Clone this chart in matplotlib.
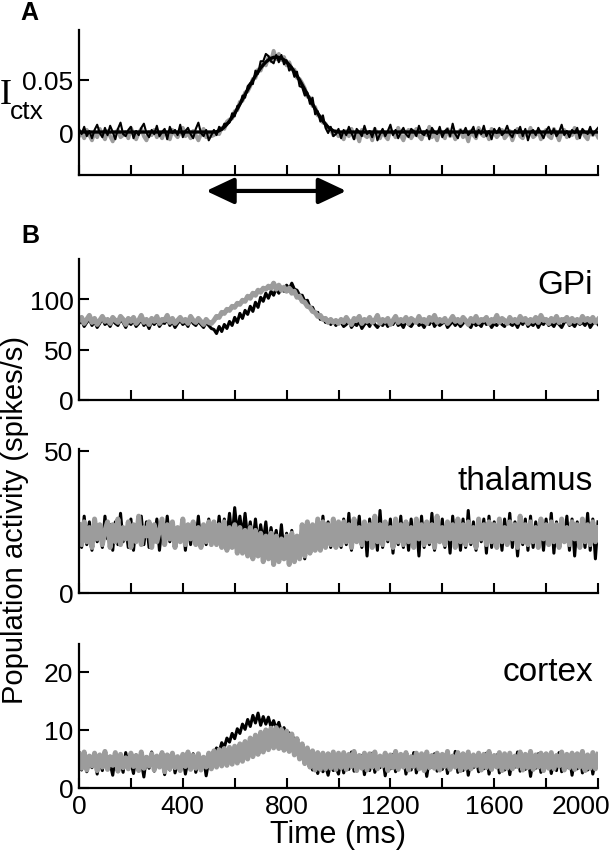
import matplotlib.pyplot as plt
import matplotlib.transforms as mtransforms
import numpy as np

plt.rcParams['font.family'] = ['Liberation Sans', 'DejaVu Sans']

# sample spacing of the traces (ms)
DT = 10

# ---- panel A: cortical input I_ctx (in units of 1e-3) ----
ictx_black = [
    3, -2, 5, -4, 1, -6, 2, 7, -1, -5, 4, -3, 6, 0, -7, 3, 9, -2, -4, 2,
    5, -6, 1, -3, 4, 8, -1, -5, 2, -2, 6, -4, 0, 3, -7, 5, -1, 2, -3, 7,
    -5, 1, 4, -2, -6, 3, 9, -1, -4, 2, -8, -3,
    2, -3, 5, 2, 8, 8, 9, 18, 15, 25, 26, 35, 33, 44, 47, 46, 59, 56, 68, 68,
    75, 73, 68, 66, 74, 67, 74, 65, 69, 59, 62, 53, 58, 44, 43, 35, 38, 27, 33, 17,
    20, 10, 16, 4, -1, 5, -4, -2, 3,
    -6, 2, -3, 5, -1, -7, 3, 0, -4, 6, -2, 1, -5, 4, -8, -2, 3, -4, 1, 7,
    -3, 2, -6, 0, 4, -2, -5, 3, 1, -4, 6, -1, -3, 2, -7, 4, 0, -2, 5, -5,
    1, 3, -4, 8, -2, -6, 2, -1, 4, -3, 0, 5, -5, 2, -2, 6, -4, 1, -7, 3,
    -1, 4, -3, 0, 6, -2, -5, 2, -1, 5, -4, 3, -8, 0, 2, -3, 4, -1, -6, 1,
    5, -2, 3, -4, 0, 7, -3, 1, -5, 2, -1, 4, -6, 3, 0, -2, 5, -3, 1, 4]
ictx_gray = [
    -4, -1, -6, 2, -3, -8, 0, -5, 3, -2, -7, 1, -4, -9, -1, 2, -5, -3, 0, -6,
    4, -2, -7, -1, 3, -4, -8, 0, -3, 2, -5, -1, -6, 1, -3, -7, 2, -2, -5, 0,
    4, -4, -1, -6, 1, -3, -8, -2, 3, -5, -1, -4,
    -3, -1, -2, 4, 3, 10, 12, 13, 20, 21, 29, 30, 38, 39, 44, 51, 52, 60, 59, 66,
    64, 72, 68, 78, 70, 75, 69, 72, 64, 67, 60, 60, 52, 51, 47, 42, 34, 33, 25, 24,
    16, 15, 9, 8, 2, 3, -3, 1, -4,
    -2, -7, 1, -4, 3, -6, -1, -9, 2, -3, -5, 0, -8, 3, -2, -6, 1, -4, -7, 2,
    -1, -5, 4, -3, -8, -1, 2, -6, -2, 3, -4, -7, 0, -3, 5, -5, -1, -8, 1, -2,
    -6, 3, -4, 0, -7, -2, 2, -5, -1, -9, 1, -3, -6, 4, -2, -4, 0, -7, 3, -1,
    -5, -2, 2, -6, -3, 1, -8, -1, 3, -4, -6, 0, -2, 4, -5, -3, 1, -7, -1, 2,
    -4, -6, 3, -2, -8, 0, 2, -5, -1, -3, 4, -6, -2, 1, -4, -7, 2, -3, 0, -5]
# mean input, only non-zero between 520 and 1000 ms
ictx_mean_t = [0] + list(range(520, 1001, 10)) + [2000]
ictx_mean = [0] + [
    0, 0.3, 1.2, 2.7, 4.8, 7.4, 10.5, 14.1, 18.0, 22.2, 26.7, 31.3, 36.0, 40.7,
    45.3, 49.8, 54.0, 57.9, 61.5, 64.6, 67.2, 69.3, 70.8, 71.7, 72.0, 71.7, 70.8,
    69.3, 67.2, 64.6, 61.5, 57.9, 54.0, 49.8, 45.3, 40.7, 36.0, 31.3, 26.7, 22.2,
    18.0, 14.1, 10.5, 7.4, 4.8, 2.7, 1.2, 0.3, 0] + [0]

# ---- panel B: population activity (spikes/s) ----
gpi_black = [
    76, 79, 73, 77, 80, 74, 78, 72, 76, 81, 75, 77, 73, 79, 76, 74, 80, 77, 72, 78,
    75, 79, 73, 76, 80, 74, 77, 71, 78, 75, 79, 73, 77, 76, 81, 74, 78, 72, 76, 79,
    75, 77, 73, 80, 76, 74, 78, 75, 72, 77, 74, 71,
    70, 66, 73, 68, 75, 71, 78, 74, 82, 77, 86, 81, 89, 85, 93, 88, 97, 92, 102, 98,
    106, 101, 108, 104, 111, 106, 112, 108, 114, 110, 116, 110, 109, 104, 104, 98, 99, 92, 92, 86,
    87, 80, 82, 77, 79, 75, 78, 74, 77,
    77, 73, 75, 79, 72, 76, 74, 78, 71, 75, 77, 73, 79, 75, 72, 76, 74, 78, 73, 77,
    75, 80, 74, 76, 72, 78, 75, 73, 77, 79, 74, 76, 72, 78, 75, 80, 73, 77, 74, 76,
    79, 72, 75, 78, 74, 77, 73, 76, 80, 75, 72, 78, 74, 76, 73, 79, 75, 77, 72, 76,
    74, 78, 75, 73, 79, 76, 74, 77, 72, 78, 75, 80, 73, 76, 74, 78, 72, 77, 75, 79,
    74, 76, 73, 78, 75, 72, 77, 79, 74, 76, 73, 78, 75, 77, 74, 79, 72, 76, 78, 75]
gpi_gray = [
    79, 82, 76, 80, 84, 77, 81, 75, 79, 83, 78, 80, 76, 82, 79, 77, 83, 80, 75, 81,
    78, 82, 76, 79, 84, 77, 80, 75, 81, 78, 83, 76, 80, 79, 84, 77, 81, 76, 79, 82,
    78, 80, 76, 83, 79, 77, 81, 78, 75, 80, 77, 76,
    79, 83, 82, 87, 86, 90, 89, 93, 92, 96, 95, 99, 98, 103, 101, 106, 104, 109, 107, 111,
    110, 113, 111, 116, 110, 114, 109, 112, 108, 111, 106, 108, 102, 103, 98, 97, 93, 92, 88, 87,
    83, 84, 80, 81, 77, 80, 77, 79, 76,
    80, 77, 82, 78, 75, 81, 79, 83, 76, 80, 78, 82, 77, 79, 84, 76, 80, 78, 81, 75,
    79, 83, 77, 80, 78, 82, 76, 81, 79, 77, 83, 78, 80, 76, 82, 79, 84, 77, 80, 78,
    81, 76, 79, 83, 78, 80, 77, 82, 79, 75, 81, 78, 83, 77, 80, 79, 82, 76, 80, 78,
    84, 77, 81, 79, 76, 82, 78, 80, 77, 83, 79, 81, 76, 80, 78, 82, 77, 84, 79, 80,
    76, 81, 78, 83, 77, 80, 79, 82, 76, 81, 78, 80, 77, 83, 79, 81, 78, 82, 77, 80]

thal_black = [
    23, 16, 27, 17, 25, 15, 26, 18, 22, 16, 27, 19, 24, 15, 25, 17, 28, 18, 23, 16,
    26, 15, 24, 19, 27, 17, 25, 16, 23, 18, 26, 15, 24, 17, 27, 18, 25, 16, 22, 19,
    26, 15, 24, 17, 25, 18, 27, 16, 23, 17, 26, 18,
    25, 18, 27, 19, 26, 20, 28, 19, 30, 21, 27, 20, 28, 19, 25, 18, 26, 17, 24, 18,
    25, 16, 23, 17, 22, 15, 24, 14, 21, 12, 22, 11, 20, 13, 23, 12, 25, 15, 24, 16,
    26, 15, 27, 17, 25, 16, 26, 17, 25,
    16, 26, 17, 28, 15, 24, 18, 27, 16, 25, 13, 26, 17, 24, 15, 29, 16, 25, 18, 26,
    14, 24, 17, 27, 16, 25, 15, 26, 18, 24, 13, 27, 16, 25, 17, 28, 15, 24, 18, 26,
    16, 25, 14, 27, 17, 24, 15, 26, 16, 29, 17, 25, 15, 24, 18, 26, 14, 27, 16, 25,
    17, 24, 15, 26, 18, 28, 16, 25, 13, 24, 17, 26, 15, 27, 16, 25, 18, 24, 15, 26,
    17, 28, 14, 25, 16, 24, 18, 27, 15, 26, 13, 25, 17, 24, 16, 28, 15, 26, 12, 25]
thal_gray = [
    24, 17, 25, 18, 23, 16, 26, 19, 24, 17, 22, 25, 16, 24, 18, 26, 17, 23, 19, 25,
    16, 24, 18, 27, 17, 23, 20, 25, 16, 24, 18, 22, 26, 17, 24, 19, 25, 16, 23, 18,
    26, 17, 24, 19, 25, 17, 23, 16, 24, 18, 25, 17,
    25, 17, 24, 16, 25, 15, 23, 16, 24, 14, 23, 14, 22, 13, 23, 12, 22, 13, 21, 11,
    20, 12, 21, 10, 20, 11, 19, 12, 20, 10, 21, 11, 20, 12, 24, 13, 25, 14, 24, 15,
    26, 15, 25, 16, 24, 17, 26, 16, 25,
    17, 25, 18, 24, 16, 26, 18, 23, 17, 25, 19, 24, 16, 27, 18, 24, 17, 25, 19, 23,
    16, 26, 18, 24, 17, 25, 18, 23, 16, 26, 19, 24, 17, 25, 18, 24, 16, 27, 18, 23,
    17, 25, 19, 24, 16, 26, 18, 24, 17, 25, 18, 23, 16, 26, 19, 24, 17, 25, 18, 24,
    16, 26, 18, 23, 17, 25, 19, 24, 16, 27, 18, 24, 17, 25, 18, 23, 16, 26, 19, 24,
    17, 25, 18, 24, 16, 26, 18, 23, 17, 25, 19, 24, 16, 26, 18, 24, 17, 25, 18, 23]

ctx_black = [
    5.2, 3.1, 6.0, 2.8, 4.5, 3.5, 5.8, 2.4, 4.9, 3.0, 6.3, 3.6, 4.2, 2.2, 5.5, 3.3, 4.8, 2.7, 6.1, 3.9,
    4.4, 2.5, 5.7, 3.2, 4.6, 1.9, 5.4, 3.4, 6.2, 2.9, 4.7, 3.6, 5.3, 2.3, 4.9, 3.1, 6.0, 2.6, 4.3, 3.8,
    5.6, 2.4, 4.8, 3.3, 5.9, 2.7, 4.5, 3.5, 5.2, 2.1, 4.7, 3.9,
    5.8, 6.9, 6.2, 7.8, 7.0, 8.6, 7.9, 9.4, 8.5, 10.2, 9.4, 11.0, 10.1, 11.8, 10.6, 12.5, 11.2, 12.9, 10.8, 12.3,
    11.0, 12.2, 10.5, 11.6, 10.2, 11.3, 9.6, 10.4, 8.9, 9.5, 8.2, 8.6, 7.0, 7.4, 5.8, 6.1, 4.4, 5.0, 3.1, 4.2,
    2.5, 4.6, 2.8, 3.9, 2.2, 4.4, 3.0, 3.6, 2.4,
    5.1, 2.6, 4.7, 3.2, 6.2, 2.9, 4.4, 3.7, 5.6, 2.3, 4.8, 3.0, 6.0, 2.7, 4.5, 3.5, 5.3, 2.1, 4.9, 3.3,
    5.8, 2.8, 4.2, 3.8, 5.5, 2.4, 4.7, 3.1, 6.1, 2.6, 4.6, 3.4, 5.2, 2.0, 4.8, 3.6, 5.9, 2.9, 4.3, 3.2,
    5.4, 2.5, 4.9, 3.7, 6.3, 2.7, 4.4, 3.0, 5.6, 2.2, 4.6, 3.5, 5.1, 2.8, 4.8, 3.3, 6.0, 2.4, 4.5, 3.9,
    5.7, 2.6, 4.1, 3.1, 5.3, 2.3, 4.9, 3.6, 6.2, 2.9, 4.6, 3.2, 5.5, 2.0, 4.7, 3.4, 5.9, 2.7, 4.3, 3.8,
    5.4, 2.5, 4.8, 3.0, 6.1, 2.8, 4.4, 3.5, 5.2, 2.2, 4.9, 3.3, 5.8, 2.6, 4.5, 3.1, 5.6, 2.4, 4.7, 3.9]
ctx_gray = [
    5.9, 3.4, 6.2, 3.1, 5.5, 3.8, 6.0, 3.0, 5.7, 3.6, 6.3, 3.2, 5.4, 3.9, 6.1, 2.9, 5.8, 3.5, 5.2, 3.3,
    6.0, 3.7, 5.6, 3.0, 6.2, 3.4, 5.3, 3.8, 5.9, 3.1, 5.5, 3.6, 6.1, 2.8, 5.7, 3.3, 6.0, 3.5, 5.4, 3.0,
    5.8, 3.7, 6.2, 3.2, 5.6, 3.4, 5.9, 3.1, 5.3, 3.6, 6.0, 3.3,
    6.4, 3.6, 6.6, 3.8, 6.8, 3.9, 7.0, 4.1, 7.2, 4.3, 7.6, 4.6, 8.0, 5.0, 8.6, 5.4, 9.1, 5.8, 9.6, 6.2,
    10.0, 6.6, 10.3, 6.9, 10.4, 6.8, 10.1, 6.5, 9.8, 6.3, 9.3, 5.7, 8.5, 5.0, 7.6, 4.2, 6.9, 3.6, 6.4, 3.1,
    6.1, 3.2, 6.0, 3.3, 5.9, 3.4, 6.2, 3.2, 6.0,
    3.5, 6.1, 3.2, 5.8, 3.7, 6.3, 3.0, 5.6, 3.4, 6.0, 3.1, 5.9, 3.6, 6.2, 3.3, 5.5, 3.8, 6.0, 3.0, 5.7,
    3.5, 6.3, 3.2, 5.8, 3.6, 6.1, 3.1, 5.4, 3.7, 6.0, 3.3, 5.9, 3.0, 6.2, 3.5, 5.6, 3.4, 6.0, 3.1, 5.8,
    3.7, 6.3, 3.2, 5.5, 3.6, 6.1, 3.0, 5.9, 3.4, 6.2, 3.3, 5.7, 3.8, 6.0, 3.1, 5.8, 3.5, 6.3, 3.2, 5.6,
    3.6, 6.1, 3.0, 5.9, 3.4, 6.0, 3.3, 5.5, 3.7, 6.2, 3.1, 5.8, 3.5, 6.3, 3.2, 5.7, 3.6, 6.0, 3.0, 5.9,
    3.4, 6.1, 3.3, 5.6, 3.8, 6.2, 3.1, 5.8, 3.5, 6.0, 3.2, 5.9, 3.6, 6.3, 3.0, 5.7, 3.4, 6.1, 3.3, 5.8]

xticks = [0, 400, 800, 1200, 1600, 2000]

GRAY = '#9c9c9c'
W, H = 613, 853
TICK_SIZE = 19


def time_of(values):
    return np.arange(len(values)) * DT


def add_panel(top, bottom):
    # axes placed by pixel rows of the reference
    left, right = 79, 598
    return fig.add_axes([left / W, 1 - bottom / H, (right - left) / W, (bottom - top) / H])


def style(ax, ylim, yticks, yticklabels, show_x=False):
    ax.set_xlim(0, 2000)
    ax.set_ylim(*ylim)
    for side in ['top', 'right']:
        ax.spines[side].set_visible(False)
    for side in ['left', 'bottom']:
        ax.spines[side].set_linewidth(1.6)
    ax.set_xticks(np.arange(0, 2001, 200))
    ax.set_xticklabels([str(t) if t in xticks and show_x else '' for t in range(0, 2001, 200)])
    ax.set_yticks(yticks)
    ax.set_yticklabels(yticklabels)
    ax.tick_params(direction='in', length=7, width=1.5, labelsize=TICK_SIZE, pad=4)


fig = plt.figure(figsize=(W / 100, H / 100), dpi=100)

# panel A
axA = add_panel(31, 176)
axA.plot(time_of(ictx_gray), np.array(ictx_gray) / 1000, color=GRAY, lw=2.8)
axA.plot(time_of(ictx_black), np.array(ictx_black) / 1000, color='black', lw=1.5)
axA.plot(ictx_mean_t, np.array(ictx_mean) / 1000, color='black', lw=2.4)
style(axA, (-0.0413, 0.098), [0, 0.05], ['0', '0.05'])
# stimulus window arrow under the axis
trans = axA.get_xaxis_transform()
axA.annotate('', xy=(490, -0.11), xytext=(1030, -0.11), xycoords=trans, textcoords=trans,
             annotation_clip=False,
             arrowprops=dict(arrowstyle='<|-|>,head_length=17,head_width=8', mutation_scale=1,
                             lw=3, color='black', shrinkA=0, shrinkB=0))
fig.text(0 / W, 1 - 96 / H, 'I', family='Liberation Serif', fontsize=26, va='center', ha='left')
fig.text(10 / W, 1 - 112 / H, 'ctx', fontsize=19, va='center', ha='left')

# panel B
panels = [
    (260, 401, gpi_black, gpi_gray, (0, 140), [0, 50, 100], 'GPi', 285),
    (450, 594, thal_black, thal_gray, (0, 50.6), [0, 50], 'thalamus', 482),
    (645, 789, ctx_black, ctx_gray, (0, 24.8), [0, 10, 20], 'cortex', 673),
]
for i, (top, bottom, black, gray, ylim, yt, name, name_y) in enumerate(panels):
    ax = add_panel(top, bottom)
    ax.plot(time_of(black), black, color='black', lw=2.2)
    ax.plot(time_of(gray), gray, color=GRAY, lw=3.6)
    style(ax, ylim, yt, [str(v) for v in yt], show_x=(i == len(panels) - 1))
    fig.text(593 / W, 1 - name_y / H, name, fontsize=24, ha='right', va='center')
    if i == len(panels) - 1:
        ax.set_xlabel('Time (ms)', fontsize=22, labelpad=1)
        # last tick label sits left of its tick so it stays inside the figure
        last = ax.get_xticklabels()[-1]
        last.set_transform(last.get_transform() +
                           mtransforms.ScaledTranslation(-0.17, 0, fig.dpi_scale_trans))

fig.text(15 / W, 1 - 520 / H, 'Population activity (spikes/s)', rotation=90,
         fontsize=21, ha='center', va='center')

# panel letters
fig.text(29 / W, 1 - 13 / H, 'A', fontsize=18, fontweight='bold', ha='center', va='center')
fig.text(30 / W, 1 - 236 / H, 'B', fontsize=18, fontweight='bold', ha='center', va='center')

fig.savefig('out.png', dpi=100)
